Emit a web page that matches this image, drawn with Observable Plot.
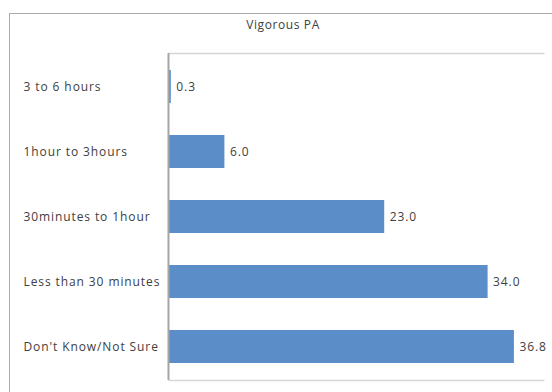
<!DOCTYPE html>
<html>
<head>
<meta charset="utf-8">
<script src="https://cdn.jsdelivr.net/npm/d3@7"></script>
<script src="https://cdn.jsdelivr.net/npm/@observablehq/plot@0.6"></script>
<style>
  html, body { margin: 0; padding: 0; background: #fff; overflow: hidden; }
  #wrap { position: relative; width: 552px; height: 392px; font-family: "Open Sans", "Liberation Sans", sans-serif; }
  #border { position: absolute; left: 9px; top: 13px; width: 700px; height: 500px; border: 1.5px solid #ababab; box-sizing: border-box; }
  #title { position: absolute; left: 183px; top: 16px; width: 200px; text-align: center; font-size: 12px; letter-spacing: 0.6px; color: #404040; }
  #chart { position: absolute; left: 0; top: 40px; }
</style>
</head>
<body>
<div id="wrap">
  <div id="border"></div>
  <div id="title">Vigorous PA</div>
  <div id="chart"></div>
</div>
<script>
const categories = ["3 to 6 hours", "1hour to 3hours", "30minutes to 1hour", "Less than 30 minutes", "Don't Know/Not Sure"];
const values = [0.3, 6.0, 23.0, 34.0, 36.8];
const xDomain = [0, 40];

const data = categories.map((c, i) => ({category: c, value: values[i]}));

const W = 552, H = 352, mT = 13, mB = 12, mL = 168, mR = 8;
const innerW = W - mL - mR, innerH = H - mT - mB;

const plot = Plot.plot({
  width: W,
  height: H,
  marginTop: mT,
  marginBottom: mB,
  marginLeft: mL,
  marginRight: mR,
  style: {fontFamily: "'Open Sans', 'Liberation Sans', sans-serif", fontSize: "12px", color: "#404040", background: "transparent", letterSpacing: "0.9px"},
  x: {domain: xDomain, axis: null},
  y: {domain: categories, paddingInner: 0.5, paddingOuter: 0.24, label: null},
  marks: [
    Plot.frame({stroke: "#d6d6d6", strokeWidth: 1.5, strokeDasharray: `${innerW} ${innerH}`}),
    Plot.barX(data, {x: "value", y: "category", fill: "#5b8ec9"}),
    Plot.text(data, {x: "value", y: "category", text: d => d.value.toFixed(1), textAnchor: "start", dx: 5, fill: "#404040", fontSize: 12}),
    Plot.ruleX([0], {stroke: "#a6a6a6", strokeWidth: 2}),
    Plot.axisY({tickSize: 0, tickPadding: 0, textAnchor: "start", dx: -(mL - 23), fontSize: 12, fill: "#404040", label: null})
  ]
});
document.getElementById("chart").appendChild(plot);
</script>
</body>
</html>
